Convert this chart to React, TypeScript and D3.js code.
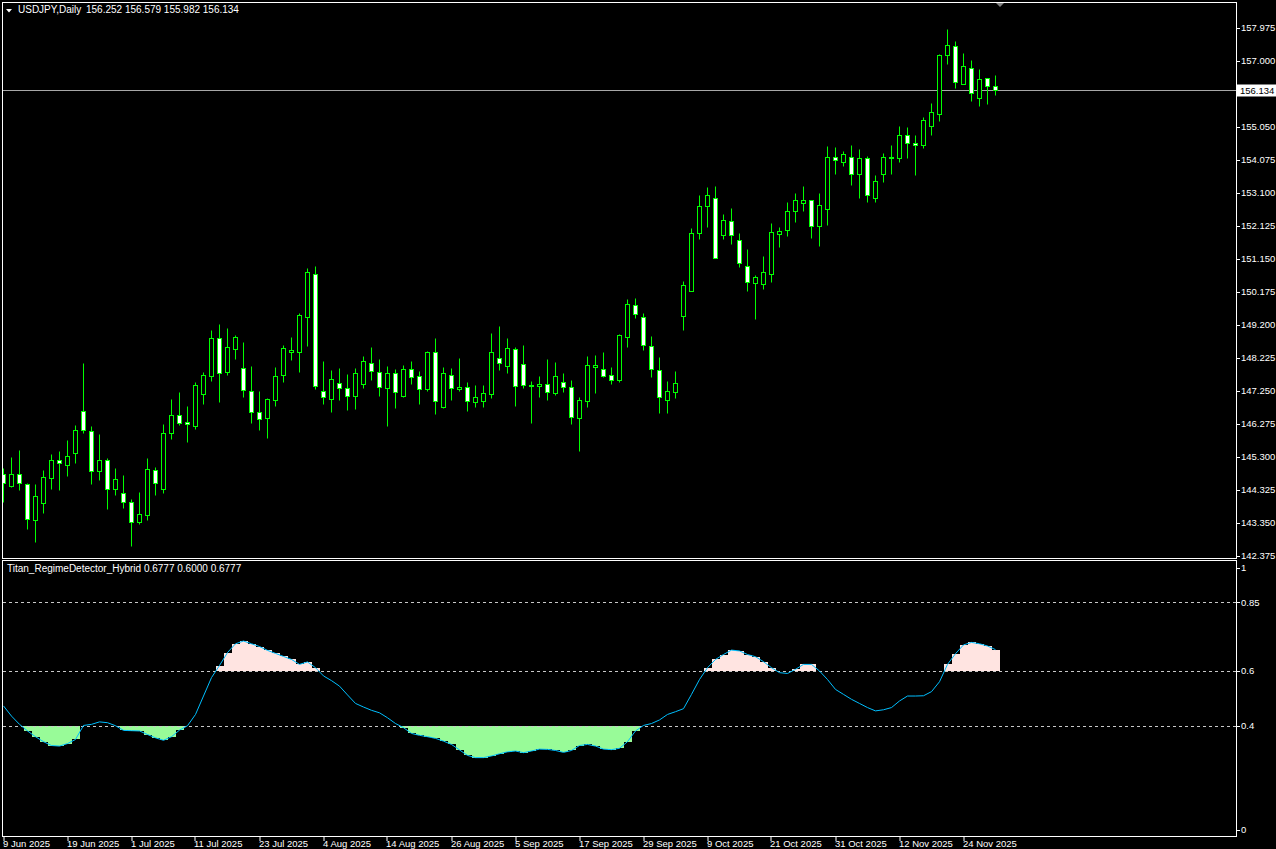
import * as d3 from 'd3';

// daily USDJPY bars, 9 Jun 2025 .. 28 Nov 2025
const opens = [
  144.80, 144.43, 144.80, 144.48, 143.43, 143.93, 144.67, 145.19, 145.05, 145.41,
  146.66, 146.07, 144.88, 145.19, 144.34, 144.21, 143.97, 143.37, 143.58, 144.89,
  144.34, 146.00, 146.52, 146.31, 146.21, 147.16, 147.69, 148.82, 147.81, 148.49,
  147.91, 147.23, 146.61, 146.45, 146.98, 147.72, 148.40, 148.40, 149.43, 150.69,
  147.23, 147.01, 147.49, 147.32, 147.10, 147.45, 148.08, 147.79, 147.33, 147.76,
  147.10, 147.88, 147.67, 147.30, 148.38, 146.77, 147.70, 147.30, 147.37, 146.90,
  146.95, 147.16, 148.23, 147.98, 148.47, 148.05, 147.43, 147.40, 147.46, 147.19,
  147.52, 147.37, 146.45, 146.95, 147.95, 147.88, 147.70, 147.57, 148.85, 149.77,
  149.42, 148.56, 147.85, 146.98, 147.20, 149.45, 150.21, 151.90, 152.70, 152.94,
  151.84, 152.26, 151.72, 150.95, 150.44, 150.39, 150.69, 151.87, 151.99, 152.55,
  152.79, 152.88, 152.11, 152.63, 154.15, 154.00, 154.15, 153.65, 154.12, 152.95,
  153.66, 154.15, 154.14, 154.80, 154.56, 154.52, 155.08, 155.44, 157.17, 157.43,
  156.31, 156.78, 155.91, 156.49, 156.252,
];
const highs = [
  144.95, 145.30, 145.49, 144.53, 144.48, 144.89, 145.39, 145.46, 145.79, 146.23,
  148.06, 146.20, 145.96, 145.27, 144.96, 144.77, 144.06, 144.25, 145.25, 144.99,
  146.26, 147.00, 147.21, 146.79, 147.52, 147.79, 149.04, 149.22, 149.09, 148.89,
  148.69, 147.98, 147.24, 147.03, 147.95, 148.59, 148.83, 149.54, 150.87, 150.93,
  148.12, 147.86, 147.92, 147.74, 147.92, 148.27, 148.54, 148.18, 147.98, 147.89,
  148.00, 148.12, 147.83, 148.42, 148.80, 147.95, 147.92, 148.21, 147.50, 147.41,
  147.41, 148.95, 149.16, 148.80, 148.54, 148.60, 147.53, 147.68, 148.18, 148.09,
  147.77, 147.56, 147.05, 148.27, 148.30, 148.39, 147.95, 148.93, 149.96, 149.99,
  149.54, 148.86, 148.24, 147.53, 147.83, 150.49, 152.05, 153.03, 153.27, 153.30,
  152.47, 152.65, 151.90, 151.44, 150.66, 151.23, 152.21, 152.09, 152.83, 153.09,
  153.30, 152.88, 153.09, 154.48, 154.45, 154.33, 154.51, 154.39, 154.19, 153.63,
  154.28, 154.51, 155.08, 155.05, 154.81, 155.34, 155.76, 157.20, 157.95, 157.59,
  157.24, 157.02, 156.76, 156.49, 156.579,
];
const lows = [
  143.96, 144.40, 144.31, 143.15, 142.78, 143.63, 144.34, 144.31, 144.72, 145.11,
  146.00, 144.48, 144.60, 143.74, 144.17, 143.78, 142.66, 143.31, 143.42, 144.17,
  144.23, 145.82, 146.24, 145.74, 146.11, 146.86, 147.54, 146.92, 147.71, 148.18,
  147.07, 146.30, 146.09, 145.85, 146.80, 147.51, 148.16, 147.81, 148.58, 147.30,
  146.85, 146.61, 146.97, 146.67, 146.70, 147.32, 147.56, 147.09, 146.20, 146.73,
  147.07, 147.44, 146.85, 147.24, 146.55, 146.73, 146.97, 147.24, 146.64, 146.76,
  146.76, 147.03, 147.86, 147.77, 146.80, 147.33, 146.30, 147.07, 146.98, 147.13,
  147.21, 146.27, 145.47, 146.77, 147.19, 147.64, 147.45, 147.51, 148.55, 149.40,
  148.46, 147.66, 146.59, 146.59, 147.04, 149.04, 150.21, 151.74, 152.10, 151.18,
  151.74, 151.59, 150.91, 150.20, 149.37, 150.26, 150.46, 151.50, 151.83, 152.24,
  152.57, 151.77, 151.53, 152.16, 153.66, 153.90, 153.34, 152.95, 152.84, 152.84,
  153.43, 153.66, 154.02, 154.14, 153.63, 154.43, 154.82, 155.22, 156.90, 156.21,
  156.31, 155.82, 155.68, 155.74, 155.982,
];
const closes = [
  144.53, 144.79, 144.53, 143.46, 144.12, 144.71, 145.19, 145.10, 145.33, 146.10,
  146.09, 144.88, 145.19, 144.34, 144.65, 143.96, 143.37, 143.59, 144.92, 144.53,
  146.01, 146.52, 146.30, 146.25, 147.43, 147.70, 148.82, 147.78, 148.53, 148.85,
  147.27, 146.61, 146.42, 146.99, 147.67, 148.50, 148.44, 149.50, 150.75, 147.39,
  147.07, 147.58, 147.32, 147.10, 147.76, 148.14, 147.84, 147.37, 147.76, 147.20,
  147.88, 147.66, 147.30, 148.38, 146.95, 147.76, 147.33, 147.37, 146.93, 147.05,
  147.17, 148.38, 148.08, 148.50, 147.39, 147.42, 147.39, 147.46, 147.20, 147.67,
  147.36, 146.46, 146.96, 148.00, 148.00, 147.69, 147.57, 148.91, 149.80, 149.53,
  148.59, 147.88, 147.05, 147.23, 147.49, 150.36, 151.90, 152.70, 153.03, 151.18,
  152.29, 151.84, 151.04, 150.45, 150.60, 150.75, 151.93, 151.96, 152.55, 152.88,
  152.88, 152.11, 152.73, 154.16, 154.06, 154.24, 153.66, 154.12, 153.04, 153.44,
  154.15, 154.16, 154.80, 154.56, 154.52, 155.25, 155.48, 157.17, 157.46, 156.37,
  156.84, 156.04, 156.46, 156.27, 156.134,
];

// Titan_RegimeDetector_Hybrid line
const regime = [
  0.473, 0.436, 0.406, 0.382, 0.361, 0.343, 0.329, 0.327, 0.336, 0.351,
  0.402, 0.406, 0.415, 0.412, 0.401, 0.384, 0.383, 0.382, 0.369, 0.357,
  0.348, 0.361, 0.385, 0.401, 0.442, 0.509, 0.576, 0.620, 0.667, 0.699,
  0.709, 0.699, 0.689, 0.675, 0.664, 0.653, 0.642, 0.624, 0.633, 0.612,
  0.582, 0.565, 0.545, 0.513, 0.482, 0.469, 0.457, 0.448, 0.430, 0.409,
  0.394, 0.373, 0.366, 0.361, 0.355, 0.345, 0.333, 0.313, 0.293, 0.285,
  0.285, 0.291, 0.299, 0.306, 0.309, 0.303, 0.309, 0.316, 0.315, 0.311,
  0.304, 0.311, 0.329, 0.333, 0.327, 0.316, 0.314, 0.319, 0.343, 0.382,
  0.402, 0.409, 0.422, 0.442, 0.452, 0.463, 0.515, 0.569, 0.612, 0.642,
  0.660, 0.676, 0.673, 0.660, 0.652, 0.634, 0.612, 0.594, 0.591, 0.606,
  0.624, 0.624, 0.600, 0.569, 0.533, 0.515, 0.497, 0.482, 0.467, 0.455,
  0.459, 0.467, 0.491, 0.509, 0.509, 0.510, 0.525, 0.561, 0.624, 0.663,
  0.695, 0.704, 0.699, 0.691, 0.6777,
];

const priceTicks = [
  157.975, 157.0, 156.025, 155.05, 154.075, 153.1, 152.125, 151.15, 150.175,
  149.2, 148.225, 147.25, 146.275, 145.3, 144.325, 143.35, 142.375,
];
const indTicks = [1, 0.85, 0.6, 0.4, 0];
const levels = [0.85, 0.6, 0.4];
const dateLabels = [
  '9 Jun 2025', '19 Jun 2025', '1 Jul 2025', '11 Jul 2025', '23 Jul 2025', '4 Aug 2025',
  '14 Aug 2025', '26 Aug 2025', '5 Sep 2025', '17 Sep 2025', '29 Sep 2025', '9 Oct 2025',
  '21 Oct 2025', '31 Oct 2025', '12 Nov 2025', '24 Nov 2025',
];

const font = "'Liberation Sans', Arial, sans-serif";

export default function App() {
  const width = 1276;
  const height = 849;
  const left = 2;
  const right = 1236;
  const mainTop = 2;
  const mainBottom = 558;
  const indTop = 560;
  const indBottom = 836;
  const n = closes.length;

  const x = d3.scaleLinear().domain([0, n - 1]).range([3.5, 3.5 + 8 * (n - 1)]);
  const y = d3.scaleLinear().domain([142.375, 157.975]).range([555.5, 28]);
  const yi = d3.scaleLinear().domain([0, 1]).range([indBottom, indTop + 1]);
  const snap = (v: number) => Math.round(v) + 0.5;

  const line = d3
    .line<number>()
    .x((_, i) => x(i))
    .y((d) => yi(d));

  const last = closes[n - 1];
  const lastY = snap(y(last));

  return (
    <svg
      width={width}
      height={height}
      style={{ position: 'absolute', left: 0, top: 0, background: '#000' }}
      fontFamily={font}
    >
      <rect width={width} height={height} fill="#000" />
      <defs>
        <clipPath id="mainClip">
          <rect x={left + 1} y={mainTop + 1} width={right - left - 1} height={mainBottom - mainTop - 1} />
        </clipPath>
      </defs>

      {/* price panel */}
      <g clipPath="url(#mainClip)">
        <line x1={left} x2={right} y1={lastY} y2={lastY} stroke="#a8a8a8" />
        {closes.map((c, i) => {
          const o = opens[i];
          const cx = x(i);
          const top = snap(y(Math.max(o, c)));
          const bot = snap(y(Math.min(o, c)));
          const bull = c >= o;
          return (
            <g key={i}>
              <line x1={cx} x2={cx} y1={snap(y(highs[i]))} y2={snap(y(lows[i]))} stroke="#00ff00" />
              <rect
                x={cx - 2}
                y={top}
                width={4}
                height={Math.max(1, bot - top)}
                fill={bull ? '#000' : '#fff'}
                stroke="#00ff00"
              />
            </g>
          );
        })}
      </g>
      <rect x={left + 0.5} y={mainTop + 0.5} width={right - left} height={mainBottom - mainTop} fill="none" stroke="#fff" />
      <path d="M996,3 L1004,3 L1000,7 Z" fill="#808080" />

      <path d="M6,9 L12,9 L9,12.5 Z" fill="#fff" />
      <text x={18} y={13} fill="#fff" fontSize={10}>USDJPY,Daily</text>
      <text x={86} y={13} fill="#fff" fontSize={10}>
        {`${opens[n - 1].toFixed(3)} ${highs[n - 1].toFixed(3)} ${lows[n - 1].toFixed(3)} ${last.toFixed(3)}`}
      </text>

      {/* price axis */}
      {priceTicks.map((p) => {
        const py = y(p);
        const hidden = Math.abs(py - lastY) < 10;
        return (
          <g key={p}>
            <line x1={right} x2={right + 4} y1={snap(py)} y2={snap(py)} stroke="#fff" />
            {!hidden && (
              <text x={1241} y={py} dy="0.35em" fill="#fff" fontSize={9.5}>
                {p.toFixed(3)}
              </text>
            )}
          </g>
        );
      })}
      <rect x={1237} y={lastY - 6} width={39} height={12} fill="#fff" />
      <text x={1240} y={lastY} dy="0.35em" fill="#000" fontSize={9.5}>
        {last.toFixed(3)}
      </text>

      {/* indicator panel */}
      <g shapeRendering="crispEdges">
        {regime.map((v, i) => {
          const bx = x(i) - 3.5;
          if (v > 0.6) {
            return <rect key={i} x={bx} width={8} y={yi(v)} height={yi(0.6) - yi(v)} fill="#ffe4e1" />;
          }
          if (v < 0.4) {
            return <rect key={i} x={bx} width={8} y={yi(0.4)} height={yi(v) - yi(0.4)} fill="#98fb98" />;
          }
          return null;
        })}
      </g>
      {levels.map((l) => (
        <line
          key={l}
          x1={left + 1}
          x2={right}
          y1={snap(yi(l))}
          y2={snap(yi(l))}
          stroke="#c8c8c8"
          strokeDasharray="3,3"
        />
      ))}
      <path d={line(regime) ?? ''} fill="none" stroke="#00bfff" strokeWidth={1} />
      <rect x={left + 0.5} y={indTop + 0.5} width={right - left} height={indBottom - indTop} fill="none" stroke="#fff" />
      <text x={7} y={572} fill="#fff" fontSize={10}>
        {`Titan_RegimeDetector_Hybrid ${regime[n - 1].toFixed(4)} 0.6000 ${regime[n - 1].toFixed(4)}`}
      </text>
      {indTicks.map((t) => {
        const ty = Math.min(830, Math.max(568, yi(t)));
        return (
          <g key={t}>
            <line x1={right} x2={right + 4} y1={snap(ty)} y2={snap(ty)} stroke="#fff" />
            <text x={1241} y={ty} dy="0.35em" fill="#fff" fontSize={9.5}>
              {String(t)}
            </text>
          </g>
        );
      })}

      {/* time axis */}
      {dateLabels.map((d, k) => {
        const tx = snap(x(k * 8)) - 0.5;
        return (
          <g key={d}>
            <line x1={tx} x2={tx} y1={indBottom} y2={indBottom + 5} stroke="#fff" />
            <text x={tx - 1} y={847} fill="#fff" fontSize={9.5}>
              {d}
            </text>
          </g>
        );
      })}
    </svg>
  );
}
